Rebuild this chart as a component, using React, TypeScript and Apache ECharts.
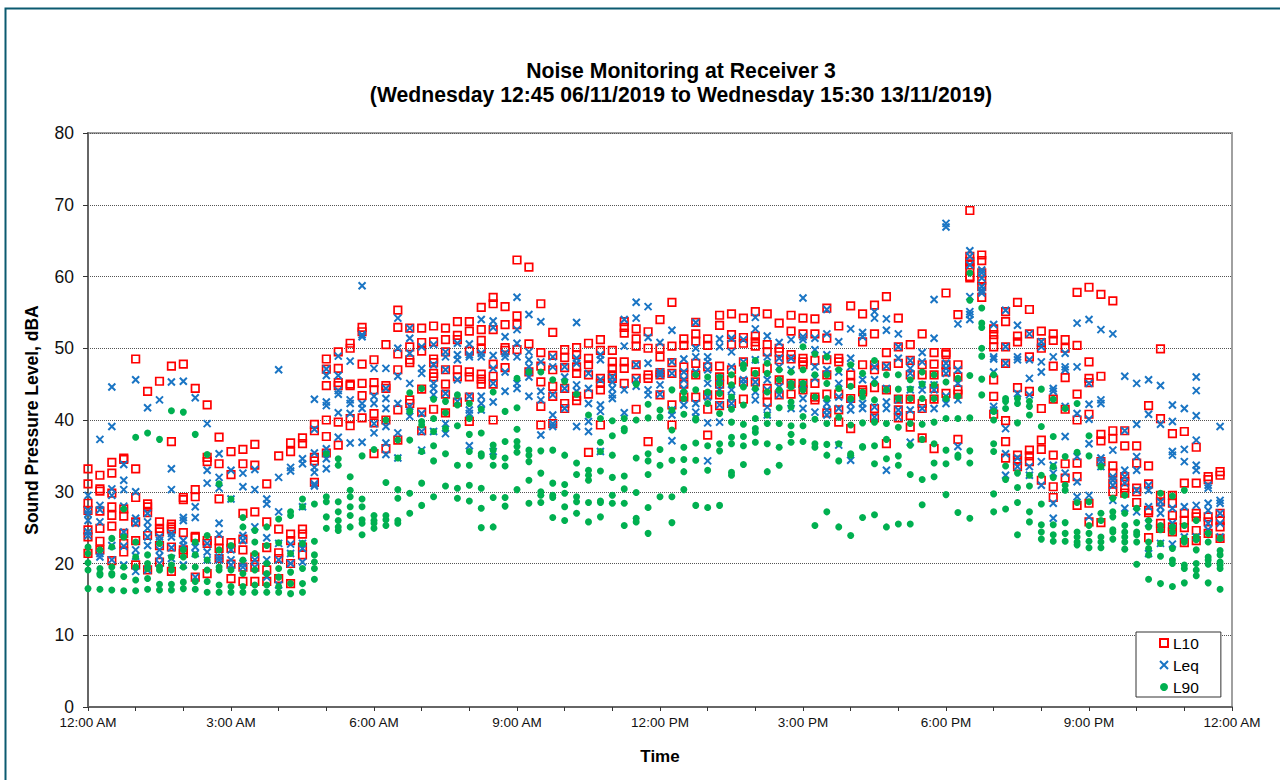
import React, { useEffect, useRef } from "react";
import * as echarts from "echarts";

const xTickLabels = ["12:00 AM", "3:00 AM", "6:00 AM", "9:00 AM", "12:00 PM", "3:00 PM", "6:00 PM", "9:00 PM", "12:00 AM"];
const slotHours = 0.25;

// one row per 15-minute slot of the day
const l10Slots: number[][] = [
[33.2,31.1,28.4,27.4,24.7,23.7,21.4],[32.3,30.4,30.1,27.3,24.9,23.1,21.9],[34.1,32.6,29.8,27.9,26.7,25.2,20.4],[34.7,34.5,27.6,26.6,24.2,22.8,21.6],
[48.5,33.2,29.2,25.8,23.2,19.8],[44,28.3,27.9,27.1,23.9,19.1],[45.4,25.8,24.9,24.4,22.5,20.2],[47.5,37,25.5,25.1,24.8,22.3,18.9],
[47.8,29.2,28.9,24.3,21.9,21.4],[44.4,30.3,29.3,23.8,23.6,18.1],[42.1,34.8,34.2,23.2,22.8,18.6],[37.6,33.9,29,23.2,22.1,20.7],
[35.6,32.4,22.9,22.1,19.9,17.9],[35.9,33.9,27,23.4,21.9,19.5,17.5],[36.6,33.7,27.2,20.9,19.5,17.5],[31.1,25.8,22.2,19.1,17.5],
[35,24.8,21.5,20.7,17.9],[36.8,35.6,24.1,23.2,20,17.2],[37.5,36.7,24.8,24.1,22.3,21.2],[39.4,38.5,34.8,34.3,31.3],
[48.5,47.1,44.8,40,37.7,35.4],[49.5,47.2,45.2,44.8,39.7,36.5],[50.7,50,45,44.8,40.2,39.2],[52.9,52.3,47.8,45.1,43.4,40.3],
[48.4,45.2,44.2,40.9,39.6,35.3],[50.5,44.8,44.4,40,36],[55.3,52.9,49.2,47,41.4,37.2],[52.8,50.2,48.4,48,42.8,42.3],
[52.8,50.8,49.6,44.3,41.1,38.5],[53.1,50.9,48.5,48,46.5,46,41.5],[52.8,51.2,49.5,47,45,43.6,41],[53.7,51.8,51.2,47,46,42.5],
[53.7,52.4,49.6,46.7,46,43.2,39.8],[55.7,52.6,51.1,49.9,46.4,45.7,45],[57.1,56.2,52.6,47.8,46.1,45,40],[55.8,53.3,50.1,49.7,47.3],
[62.3,54.5,53.3,49.8],[61.3,50.6,46.7],[56.2,49.4,47.5,45.3,41.9,39.3],[52.2,49,47,44.7,43.3,39.5],
[49.8,48.7,47.3,44.4,42.3,41.6],[50.1,49.1,47.4,46.5,43.3,42.7],[50.7,48.6,47.7,46.3,43.6,35.5],[51.2,49.7,45.8,45.1,44.2,39.3],
[49.7,48.1,47.2,46.3,45.8],[53.7,52.9,52.1,48.1,47.2,45.1],[52.7,51.3,50.3,47.7,45.8,41.5],[52.3,50,46.3,45.8,37],
[54,50,48.8,46.6,46.3,43.5],[56.4,50.3,48,46.5,42.1,39.3],[51.3,50.4,47.4,46.3,45,43.2],[53.6,52,51,47.9,46.3,43.2],
[51.3,50.4,47.4,43.5,41.5,37.9],[54.6,53.2,47.5,46,45,43.5,42],[54.8,51.9,50.5,47,45.6,42.3],[54.2,51.5,50.7,48.1,45.3,42.9],
[55.1,51.7,50.9,50.3,46.7,45.3],[54.8,50.5,49.5,47.2,44.4,43.5,42.5],[53.5,50,49.5,48.4,45.6,43.5],[54.6,52.4,49.1,48.5,45.1,43.6],
[54.2,52,48.6,48.1,47.7,45.1,44.2],[54.1,52,48.3,45.1,43.2,42.8],[55.6,51.4,48.4,46.3,43.6,41],[53.1,48.6,48.1,43.6,41.4,39.7],
[55.9,46.3,45.1,43,38.8],[54.8,50.9,47.7,44.2,43.9],[56,52,47.7,47,44.5,41.6,40.3],[57.2,49.4,47.5,44.2,36.7],
[54.2,50.2,47.9,42.9,41.4,40.3],[50.5,48.3,46.3,42.9,40.6,39],[52,47.7,46.3,42.3,41.6,37.5],[49.4,47.8,46.3,44.4,42.9,36],
[57.7,49.4,49.1,47.7,46.7,43.7],[54.7,47.7,46,44.2,43.6,37.3],[69.2,62.8,62.1,61.6,61.2,60,59.8],[63,62.2,60.5,59.5,58.6,57.1],
[52.7,51.9,51.2,50.2,45.6,43.3,40.8],[55.1,53.7,50.2,47.9,39.9,37,34.7],[56.4,51.7,50.9,44.5,35.1,34.4,33.5],[55.4,52,48.8,44,35.8,35,34.2],
[52.4,50.8,50,41.6,37.2,35.9,31.6],[52,51.1,47.5,42.9,35.1,30.7,29.2],[51.2,50,45.9,41.5,33.9,31.9],[57.8,50.4,43.6,40,34,32.1,28.1],
[58.5,48.1,45.8,45.2,40.8,28.4,25.8],[57.5,46.1,38,37.1,34.2,25.7],[56.6,38.5,37.4,33.6,32.6,31.2,30],[38.5,36.4,32.1,31.4,30.5,29.8],
[36.4,34,30.5,30,28.5],[42,33.6,31.1,27.4,27.1,23.6],[49.9,40.2,29.5,28.6,25.6,24.9],[38.1,29.5,28.4,26.7,25.1,24.4],
[38.4,31.2,27,26,25,22.9],[36.2,31.2,27,26.5,24.6,23.2],[32.1,31.7,26.5,25.8,24.2],[32.8,32.3,27,26,25.1,23.5],
];

const leqSlots: number[][] = [
[29.5,27.4,26.9,26,24.4,23.9],[37.3,28.1,27.5,25.8,21.4,20.9],[44.6,39.1,30.4,29.5,22.5,20.5],[33.8,31.6,30.3,28,24.4,22.4,19.8],
[45.6,30,26.3,25.6,21.9,21,18.9],[41.7,27,25.8,24.9,23.7,22.5,19.1],[42.8,23.7,23.2,21.9,21,20],[45.3,33.2,30.3,24.2,23.7,22.2,20.7],
[45.4,26.4,26,23.2,22.5,19.8],[43.1,27.9,26.4,22.3,21.4,18.1],[39.5,33,31.2,22.8,21.6,20.5],[35.3,32,30.5,25.6,24.1,20.9,20.5],
[33,29,21.9,20.5,19.8],[32.6,30.7,23.9,23.2,20,19.5],[33.1,30.3,25.1,20.5,19.5],[29,28.3,23.6,20.5,18.1],
[47,32,27.2,22.8,20.5,17],[33.4,32.9,22.7,21.4,20],[34.6,33.9,27.9,22.8,22.1,20.2],[42.9,38.7,35.4,33.4,32.7,31.1,30.8],
[47.1,46.2,42.5,42,36,34.6,33.2],[48.9,46.2,44.1,43.6,41,37.6],[48.2,42.8,42.3,40.9,36.8],[58.7,51.9,51.6,42.3,41.6,36.9],
[47.2,43.3,42.3,39.5,38.2],[47.2,44.4,43,41.6,39.1,36.8,35.2],[54.2,50,46.1,42.3,38.2,34.7],[52.8,51.4,49.3,45.1,41.9,40.5],
[50.2,47.2,46.5,40.9,38.4,35.8],[50.5,47.7,45.1,44.4,43.5,38.4],[49.5,48.8,47,43.7,39.5,38.1],[50.7,49.1,48.4,45.6,42.6],
[50.6,49.1,48.8,43.3,41.4,40.9,36.4],[54,49.3,48.8,43.3,42.3,41.4],[53.8,52.9,49,47.2,45.1,42.5,35.6],[51.6,49.3,48.8,46.7,44],
[57.1,52.6,50.7,48.8,45.1,44.4],[54.7,49.5,48.4,47.4,46,43.3],[53.7,48.1,44,42.8,37.9],[48.8,47.4,43.5,40.7,39.5,39.1],
[47.4,46,44.4,41.6],[53.6,48.6,47.9,44.9,44,39.1],[46.5,44.4,42.3,39.8,38.4],[49.1,48.4,45.6,42.1,41.2,35.6],
[46,45.3,44.4,43.5,43],[54,50.3,44.2,41],[56.4,54.2,47.7,45.6,44.7],[55.8,51.5,47.9,44.2,43.5],
[50.8,46.7,46.3,44.9,43.6],[52.5,48.1,46.5,41.4,40.7,37.1],[48.5,46.7,45.6,44.4,42.1],[53.6,50,48.8,46.7,42.3,41.1,40.4],
[48.8,48.1,47,45.1,43.2,39.6,34.3],[51.3,50.2,45.8,44.2,42.1,39.7],[51.4,49.5,47.4,44.2,43.2,42.3],[51.2,48.1,45.6,45.1],
[54.3,52.7,48.4,45.3,43.9,42.8],[51.7,48.8,45.6,44.2,41.8,40.7],[50.8,48.6,47.4,44.6,43.5],[51.2,48.6,47,44.9,41.6],
[57,51.6,51.2,44.9,43,41.6],[51.4,49.8,47.4,45.8,41.1],[55.4,52,49.1,47,42.3,41.4,40.7],[50.9,46.7,45.1,43.2,41.6,36.5],
[52.7,48.6,47.4,42.3,41.4,34.4],[52.2,51.6,45.6,42.3,41.6],[55.1,54.2,47.4,45.6,41.8,40.4],[54.1,52.5,47.5,44.4,42.5,41.6,33],
[52,50.2,48.6,42.8,41.4,40.4],[48.3,47.2,46.5,44.2,41.4,36.9],[49.4,48.1,44.9,44.2,41.6],[56.8,51.4,44.9,44.2,41.6],
[67.4,66.9,47.9,47.2,46.5,43.3,42.3],[53.4,47,45.1,42.8,36.3],[63.6,62.8,61.6,57.2,55.1,54.7,54],[60.9,60.5,59.8,58.6,58.1,57.7],
[53.3,48.8,48.5,46.7,41.9,41.4],[55.3,50.2,47.9,38.8,35.3,32.3],[53.2,48.8,48.4,43.7,34.7,33.5],[52,48.4,45.8,43.5,33.5,32.3],
[50.9,50.2,48.1,46.7,34.2,30.9],[48.8,44.4,44,33.7,32.6,28.4,26.3],[49.3,47.4,47,41.9,37.7,32.6],[53.5,47.4,40.9,34.9,31.4,29.3],
[54,45.1,42.2,40.1,36.7,29.5,26.5],[52.6,42.8,42.3,34.7,34.2,33.5],[52,35.8,32.1,31.6,30.9,28.8],[46.1,38.5,33,32.1,31.2,27.7],
[45.1,39.4,34.9,33,30.2,27.2],[45.6,40.8,30.9,30.2,27.9,25.6,21.4],[44.8,39.4,28.6,27.9,27,22.8],[42.1,39.8,35.6,35.1,27.7,25.6,22.7],
[41.6,35.9,34.2,27.9,23.7],[46,44.1,40.6,37.2,33.7,33,28.1,23.7],[30.9,30.5,28.4,27.4,25.6,24.7],[39.1,28.8,28.4,27,25.6,23.7],
];

const l90Slots: number[][] = [
[22.3,21.4,20.1,19.1,16.5],[21.9,19.3,18.6,18.4,16.4],[23.5,22.3,19.5,18.6,18.4,16.3],[27.6,23.7,19.5,18.2,16.2],
[37.6,23,20.9,19.5,17.7,16.2],[38.2,21.2,20,19.3,17.9,16.4],[37.3,22.8,19.5,19.1,17.1,16.3],[41.3,20.9,19.8,19.1,17.1,16.3],
[41.1,21.9,20.9,19.5,17.4,16.5],[38,23,21.2,19.5,17.5,16.4],[35.2,23.9,20.5,19.1,17.5,16],[31.1,21.9,19.5,19.1,17,16],
[29,22.5,19.1,16.8,16],[26.4,25.1,20.5,18.6,16.8,16],[24.6,23,21.4,19.1,17,16],[25.1,22.5,20,18.6,17,16],
[26.2,22.9,19.3,18.1,16.8,16],[27.2,26.7,21.4,18.8,17.2,15.8],[29,27.9,22.8,19.3,17.2,16],[28.3,23.1,21.2,20.2,19.3,17.8],
[35.3,29.3,28.6,26.5,24.9],[34.6,33.7,28.6,27.2,26,25.1,24.6],[32.1,30.2,29.3,27.9,26.7,25.1],[35,29,27.9,26.1,25.6,24],
[35.9,26.7,26,25.6,24.9],[40,31.3,26.7,26.1,25.3],[37.2,34.7,30.3,29.1,26,25.6],[43.8,41.2,37.2,29.8,27],
[44.4,39.8,39.3,35.6,31.2,28.1],[42.9,40.2,38.4,36.4,34.3,29.3],[42.6,41,38.8,35.3,30.8],[43.5,42.1,39.2,33.7,30.5,29.1],
[42.3,40.2,38,35.6,33.7,30.9,28.7],[41.5,38.2,35.3,35,30.5,27.7,25],[43.9,36.5,35.8,34.9,33.7,29.2,25.1],[41.2,37,34.7,33.6,29.2,28],
[45.8,41.7,38.7,37,36.3,35.5,30.3],[46.7,35.8,35.1,34.2,31.6,28.4],[46.7,35.7,32.6,30,29.5,28.5],[45.6,35.8,31.2,29.5,29.2,26.4],
[45.4,35.1,31,29.8,27.9,26],[43.6,34,32.4,29.3,28.6,27],[40.7,33,32.3,31.6,28.5,25.8],[40.2,36.9,35.6,32.9,28.7,28.5,26.5],
[39.9,37.8,35.1,32,29.5,28.4],[40.2,38.8,38.5,32.2,30.4,28.4,25.3],[45,40,34.7,29.9,26.3,25.8],[42.2,40.3,35.3,34.3,32.4,27.8,24.2],
[41.4,40.4,35.9,33.7,29.3],[44.2,41.4,38.6,34.4,29.3,25.7],[43.9,43,40.8,36.2,34.5,32.8,30.3],[46.3,44.2,40.2,40,36.8,34.4,28.1],
[46,43.9,42.3,36.4,33,27.8],[46,45.1,43.7,40.9,36.7,35.7,28.1],[46.3,44.9,43.2,41.5,39.7,37.6,36.7,32.7,32.3],[47.7,47.2,44.6,42.1,39.4,37.7,36.4,33.8],
[48.3,46.5,44.4,40.2,38.8,38.3,36.9],[47.9,46.5,43.9,40.7,39.5,36.7,32.8],[47,45.6,44.2,41.7,39.5,36.2,33.7],[46.7,45.1,44.6,42.5,41.8,39.2,38,36.9],
[50.2,47,45.1,44.2,40.5,39.2,37],[49.2,46.3,43.2,40.1,36.7,36.2,25.3],[48.8,46.3,45.1,43,39.5,36.6,35.1,27.2],[47,44.4,40.4,36.7,34.3,25.1],
[47.7,44.7,43,39.3,35.3,35.1,23.9],[46.5,43.9,43.2,39.6,36.3,36.2,26.4],[48.3,45.1,42.8,39.7,36.4,33.9,26.8],[46.3,44.2,39.5,37.3,34.6,25.1],
[46.3,44.3,43,39,35,33.7,25.5],[45.6,44.3,43,39.5,36.5,32.4,25.5],[46.7,45,43,39.4,37.3,31.7,28.2],[46.3,44.9,43,39.7,36.7,34,32.1],
[45.3,43,40.2,35.8,33.9,29.6],[45.8,43.3,40.2,35.1,34.8,27.1],[60.5,56.7,46.2,40.3,35.7,34,26.3],[55.6,53.5,52.9,50,48.9,45.7,43.5],
[46.3,41.2,40,36.7,35.6,29.7,27.2],[43,42.6,41.6,33.6,31.7,27.6],[43,42.3,39.6,32.6,30.6,28.5,24],[42.6,41.9,40.7,32.3,30.8,27.2,25.8],
[44.3,39.1,32.3,28.3,25.4,24.4,23.4],[42.9,37.7,33.5,32,25.4,24,23.1],[41.6,34.9,30.9,30.2,25.7,24.2,23.1],[42.3,35.5,28.5,24.4,23.7,23,22.6],
[37.8,35,28.6,25.3,24.2,23.1,22.2],[33.5,27,26,23.7,23,22.2],[29.1,27.2,26.5,24.7,24.4,23.4],[29.5,27,25.3,24.4,23.7,23,22],
[27.7,25.7,24.4,24,23,19.9],[26,25.1,23,22.1,21.2,17.8],[29.8,25.3,24.7,22.8,21,17.2],[29.4,25.1,24.4,22.1,20.5,20,16.8],
[30.2,25.3,23.5,23,19.8,19.3,17.3],[26,23.7,23.3,21.9,20,19.1,18.3],[24.2,23,20.9,20.5,19.9,17.3],[23.5,21.8,21.2,20.2,19.8,19.3,16.4],
];

const toPoints = (slots: number[][]) =>
  slots.flatMap((values, slot) => values.map((v) => [slot * slotHours, v]));

const FONT = '"Liberation Sans", Arial, sans-serif';

export default function App() {
  const ref = useRef<HTMLDivElement>(null);
  useEffect(() => {
    const chart = echarts.init(ref.current!, undefined, { renderer: "svg" });
    chart.setOption({
      animation: false,
      backgroundColor: "#ffffff",
      textStyle: { fontFamily: FONT },
      title: {
        text: "Noise Monitoring at Receiver 3\n(Wednesday 12:45 06/11/2019 to Wednesday 15:30 13/11/2019)",
        left: 676,
        top: 53,
        textAlign: "center",
        textStyle: { fontFamily: FONT, fontSize: 21.2, fontWeight: "bold", color: "#000", lineHeight: 24 },
      },
      grid: {
        left: 88, top: 133, width: 1144, height: 574,
        show: true, borderColor: "#a0a0a0", borderWidth: 2, backgroundColor: "transparent",
      },
      xAxis: {
        type: "value", min: 0, max: 24, interval: 1,
        name: "Time", nameLocation: "middle", nameGap: 41,
        nameTextStyle: { fontFamily: FONT, fontSize: 17, fontWeight: "bold", color: "#000" },
        axisLine: { onZero: false, lineStyle: { color: "#666", width: 2 } },
        axisTick: { length: 4, lineStyle: { color: "#333", width: 1 } },
        splitLine: { show: false },
        axisLabel: {
          fontFamily: FONT, fontSize: 13.5, color: "#111", margin: 8,
          formatter: (v: number) => (v % 3 === 0 ? xTickLabels[v / 3] : ""),
        },
      },
      yAxis: {
        type: "value", min: 0, max: 80, interval: 10,
        name: "Sound Pressure Level, dBA", nameLocation: "middle", nameGap: 47,
        nameTextStyle: { fontFamily: FONT, fontSize: 17.5, fontWeight: "bold", color: "#000" },
        axisLine: { onZero: false, lineStyle: { color: "#666", width: 2 } },
        axisTick: { length: 5, lineStyle: { color: "#333", width: 1 } },
        splitLine: { lineStyle: { color: "#555", width: 1, type: [1, 1] } },
        axisLabel: { fontFamily: FONT, fontSize: 17.5, color: "#111", margin: 14 },
      },
      legend: {
        left: 1136, top: 632,
        orient: "vertical",
        backgroundColor: "#fff",
        borderColor: "#333", borderWidth: 1,
        padding: [2, 22, 1, 23],
        itemWidth: 8, itemHeight: 8, itemGap: 4,
        textStyle: { fontFamily: FONT, fontSize: 15.5, color: "#000", lineHeight: 18 },
        data: ["L10", "Leq", "L90"],
      },
      series: [
        {
          name: "L10", type: "scatter", data: toPoints(l10Slots),
          symbol: "rect", symbolSize: 7.5,
          itemStyle: { opacity: 1, color: "transparent", borderColor: "#ff0000", borderWidth: 1.7 },
        },
        {
          name: "Leq", type: "scatter", data: toPoints(leqSlots),
          symbol: "path://M0 0L10 10M10 0L0 10", symbolSize: 7,
          itemStyle: { opacity: 1, color: "transparent", borderColor: "#1a75c4", borderWidth: 2 },
        },
        {
          name: "L90", type: "scatter", data: toPoints(l90Slots),
          symbol: "circle", symbolSize: 7,
          itemStyle: { opacity: 1, color: "#00b050" },
        },
      ],
      graphic: [
        {
          type: "polyline", silent: true,
          shape: { points: [[5.5, 780], [5.5, 8.5], [1280, 8.5]] },
          style: { stroke: "#0b5a70", lineWidth: 2, fill: "none" },
        },
      ],
    });
    return () => chart.dispose();
  }, []);
  return <div ref={ref} style={{ position: "fixed", left: 0, top: 0, width: 1280, height: 780 }} />;
}
